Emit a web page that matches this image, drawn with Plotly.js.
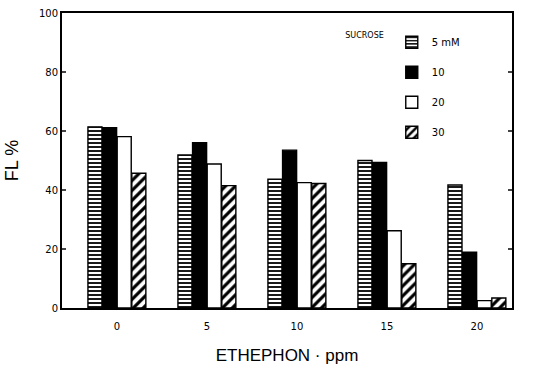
<!DOCTYPE html>
<html><head><meta charset="utf-8">
<script src="https://cdn.plot.ly/plotly-3.0.1.min.js"></script>
<style>html,body{margin:0;padding:0;background:#fff}</style>
</head><body><div id="chart" style="width:547px;height:372px"></div>
<script>
var categories = ["0", "5", "10", "15", "20"];
var seriesNames = ["5 mM", "10", "20", "30"];
var sucrose5 = [61.4, 51.9, 43.7, 50.0, 41.7];
var sucrose10 = [61.1, 56.0, 53.5, 49.3, 18.9];
var sucrose20 = [58.1, 48.8, 42.5, 26.2, 2.5];
var sucrose30 = [45.7, 41.5, 42.2, 15.0, 3.4];
var yTicks = [0, 20, 40, 60, 80, 100];

var values = [sucrose5, sucrose10, sucrose20, sucrose30];
var styles = [
  {color: "#fff", pattern: {shape: "-", fgcolor: "#000", bgcolor: "#fff", size: 4, solidity: 0.45}},
  {color: "#000"},
  {color: "#fff"},
  {color: "#fff", pattern: {shape: "/", fgcolor: "#000", bgcolor: "#fff", size: 7, solidity: 0.45}}
];
var data = values.map(function (v, i) {
  var m = Object.assign({line: {color: "#000", width: 1.4}}, styles[i]);
  return {type: "bar", x: categories, y: v, name: seriesNames[i], marker: m,
          legendgroup: "g" + i};
});
var layout = {
  width: 547, height: 372,
  margin: {l: 62, r: 35, t: 13, b: 64},
  paper_bgcolor: "#fff", plot_bgcolor: "#fff",
  font: {family: "DejaVu Sans, sans-serif", color: "#000"},
  barmode: "group", bargap: 0.35, bargroupgap: 0.04,
  showlegend: true,
  legend: {x: 0.625, y: 0.95, xanchor: "left", yanchor: "top",
           traceorder: "grouped", tracegroupgap: 11, itemwidth: 30,
           title: {text: "SUCROSE", side: "left", font: {size: 8}},
           font: {size: 10}, bgcolor: "rgba(0,0,0,0)"},
  xaxis: {type: "category", range: [-0.61, 4.39], showline: true, mirror: true,
          linecolor: "#000", linewidth: 2, ticks: "", showgrid: false,
          tickfont: {size: 10}, ticklabelstandoff: 8,
          title: {text: "ETHEPHON · ppm", font: {size: 17, family: "Liberation Sans, sans-serif"}, standoff: 18}},
  yaxis: {range: [0, 100], tickvals: yTicks, showline: true, mirror: "ticks",
          linecolor: "#000", linewidth: 2, ticks: "inside", ticklen: 4, tickwidth: 1.5,
          showgrid: false, zeroline: false, tickfont: {size: 10},
          title: {text: "FL %", font: {size: 18, family: "Liberation Sans, sans-serif"}, standoff: 16}}
};
Plotly.newPlot("chart", data, layout, {staticPlot: true});
</script></body></html>
